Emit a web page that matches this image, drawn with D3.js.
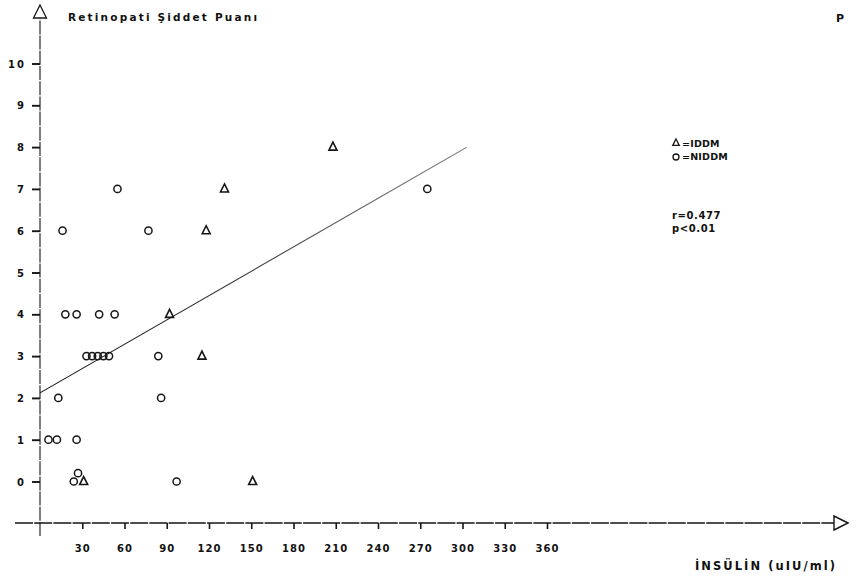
<!DOCTYPE html>
<html>
<head>
<meta charset="utf-8">
<script src="https://cdn.jsdelivr.net/npm/d3@7/dist/d3.min.js"></script>
<style>
  html, body { margin: 0; padding: 0; background: #fff; }
  svg { display: block; }
  text { font-family: "DejaVu Sans", "Liberation Sans", sans-serif; fill: #111; }
</style>
</head>
<body>
<svg id="chart" width="856" height="581"></svg>
<script>
// Insulin level (uIU/ml) against retinopathy severity score
const iddmInsulin = [208, 131, 118, 92, 115, 151, 31];
const iddmScore   = [8, 7, 6, 4, 3, 0, 0];

const niddmInsulin = [275, 55, 77, 16, 18, 26, 42, 53, 33, 37, 41, 45, 49, 84, 13, 86, 6, 12, 26, 24, 27, 97];
const niddmScore   = [7, 7, 6, 6, 4, 4, 4, 4, 3, 3, 3, 3, 3, 3, 2, 2, 1, 1, 1, 0, 0.2, 0];

const xTicks = [30, 60, 90, 120, 150, 180, 210, 240, 270, 300, 330, 360];
const yTicks = [0, 1, 2, 3, 4, 5, 6, 7, 8, 9, 10];

// least-squares line reported with r = 0.477
const fitIntercept = 2.12;
const fitSlope = 0.0194;
const fitRange = [0, 303];

const yTitle = "Retinopati Şiddet Puanı";
const xTitle = "İNSÜLİN (uIU/ml)";
const legendItems = ["=IDDM", "=NIDDM"];
const statLines = ["r=0.477", "p<0.01"];

const svg = d3.select("#chart");
const ink = "#161616";

const x = d3.scaleLinear().domain([0, 360]).range([40, 547]);
const y = d3.scaleLinear().domain([0, 10]).range([481.5, 63.5]);

const defs = svg.append("defs");
const grad = defs.append("linearGradient").attr("id", "fitFade")
  .attr("x1", "0%").attr("y1", "0%").attr("x2", "100%").attr("y2", "0%");
grad.append("stop").attr("offset", "0%").attr("stop-color", "#111");
grad.append("stop").attr("offset", "45%").attr("stop-color", "#333");
grad.append("stop").attr("offset", "100%").attr("stop-color", "#8a8a8a");

// axis lines with open arrow heads
const x0 = x(0), yBase = 523;
svg.append("line").attr("x1", x0).attr("x2", x0).attr("y1", 536).attr("y2", 19)
  .attr("stroke", "#2a2a2a").attr("stroke-width", 1.2).attr("stroke-dasharray", "14,1.2");
svg.append("line").attr("x1", 15).attr("x2", 834).attr("y1", yBase).attr("y2", yBase)
  .attr("stroke", ink).attr("stroke-width", 1.4).attr("stroke-dasharray", "18,1.2");

svg.append("path")
  .attr("d", `M${x0},5 L${x0 + 6.5},18 L${x0 - 6.5},18 Z`)
  .attr("fill", "none").attr("stroke", ink).attr("stroke-width", 1.3);
svg.append("path")
  .attr("d", `M848,${yBase} L834,${yBase - 7} L834,${yBase + 7} Z`)
  .attr("fill", "none").attr("stroke", ink).attr("stroke-width", 1.4);

// y axis ticks
const yAxis = d3.axisLeft(y).tickValues(yTicks).tickSize(8).tickPadding(6)
  .tickFormat(d3.format("d"));
const gy = svg.append("g").attr("transform", `translate(${x0},0)`).call(yAxis);
gy.select(".domain").remove();
gy.selectAll(".tick line").attr("stroke", ink).attr("stroke-width", 1.9);
gy.selectAll(".tick text").attr("fill", ink).style("font-size", "10px")
  .style("font-weight", "600").style("letter-spacing", "2px").attr("dy", "0.35em");

// x axis ticks
const xAxis = d3.axisBottom(x).tickValues(xTicks).tickSize(6).tickPadding(16)
  .tickFormat(d3.format("d"));
const gx = svg.append("g").attr("transform", `translate(0,${yBase})`).call(xAxis);
gx.select(".domain").remove();
gx.selectAll(".tick line").attr("stroke", ink).attr("stroke-width", 1.6);
gx.selectAll(".tick text").attr("fill", ink).style("font-size", "10px")
  .style("font-weight", "600").style("letter-spacing", "1px");

// axis titles
svg.append("text").attr("x", 68).attr("y", 21).text(yTitle)
  .style("font-size", "10.5px").style("font-weight", "600")
  .attr("textLength", 189).attr("lengthAdjust", "spacing");
svg.append("text").attr("x", 695).attr("y", 570).text(xTitle)
  .style("font-size", "11.5px").style("font-weight", "600")
  .attr("textLength", 140).attr("lengthAdjust", "spacing");
svg.append("text").attr("x", 836).attr("y", 22).text("P")
  .style("font-size", "11px").style("font-weight", "600");

// regression line
svg.append("line")
  .attr("x1", x(fitRange[0])).attr("y1", y(fitIntercept + fitSlope * fitRange[0]))
  .attr("x2", x(fitRange[1])).attr("y2", y(fitIntercept + fitSlope * fitRange[1]))
  .attr("stroke", "url(#fitFade)").attr("stroke-width", 1.1);

// markers
const triPath = (cx, cy, s) =>
  `M${cx},${cy - s * 0.62} L${cx + s / 2},${cy + s * 0.38} L${cx - s / 2},${cy + s * 0.38} Z`;

const niddm = niddmInsulin.map((v, i) => ({ v, s: niddmScore[i] }));
const iddm = iddmInsulin.map((v, i) => ({ v, s: iddmScore[i] }));

svg.append("g").selectAll("circle").data(niddm).join("circle")
  .attr("cx", d => x(d.v)).attr("cy", d => y(d.s)).attr("r", 3.6)
  .attr("fill", "none").attr("stroke", ink).attr("stroke-width", 1.5);

svg.append("g").selectAll("path").data(iddm).join("path")
  .attr("d", d => triPath(x(d.v), y(d.s), 8))
  .attr("fill", "none").attr("stroke", ink).attr("stroke-width", 1.6)
  .attr("stroke-linejoin", "miter");

// legend
const lg = svg.append("g");
lg.append("path").attr("d", triPath(676, 143, 6.5))
  .attr("fill", "none").attr("stroke", ink).attr("stroke-width", 1.3);
lg.append("circle").attr("cx", 676).attr("cy", 157).attr("r", 3)
  .attr("fill", "none").attr("stroke", ink).attr("stroke-width", 1.3);
lg.selectAll("text.leg").data(legendItems).join("text").attr("class", "leg")
  .attr("x", 682).attr("y", (d, i) => 147 + i * 13).text(d => d)
  .style("font-size", "9.5px").style("font-weight", "600").style("letter-spacing", "0.2px");
lg.selectAll("text.stat").data(statLines).join("text").attr("class", "stat")
  .attr("x", 672).attr("y", (d, i) => 219 + i * 13).text(d => d)
  .style("font-size", "10px").style("font-weight", "600").style("letter-spacing", "0.6px");
</script>
</body>
</html>
